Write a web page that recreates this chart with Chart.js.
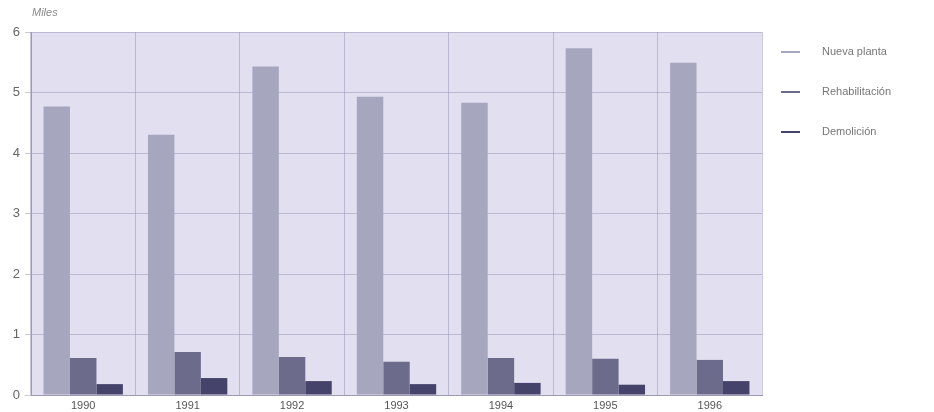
<!DOCTYPE html>
<html>
<head>
<meta charset="utf-8">
<script src="https://cdn.jsdelivr.net/npm/chart.js@4/dist/chart.umd.min.js"></script>
<style>
  html, body { margin: 0; padding: 0; background: #fff; }
  #wrap { width: 934px; height: 412px; }
</style>
</head>
<body>
<div id="wrap"><canvas id="myChart" width="934" height="412"></canvas></div>
<script>
// Años y valores (miles)
const years = ['1990', '1991', '1992', '1993', '1994', '1995', '1996'];
const nuevaPlanta = [4.77, 4.30, 5.43, 4.93, 4.83, 5.73, 5.49];
const rehabilitacion = [0.61, 0.71, 0.63, 0.55, 0.61, 0.60, 0.58];
const demolicion = [0.18, 0.28, 0.23, 0.18, 0.20, 0.17, 0.23];
const yTicks = [0, 1, 2, 3, 4, 5, 6];

const colores = ['#a7a6bf', '#6d6b8b', '#46436b'];

// fondo del área y leyenda de la derecha
const decor = {
    id: 'decor',
    beforeDraw(chart) {
        const { ctx, chartArea: a } = chart;
        ctx.save();
        ctx.fillStyle = '#e1dff0';
        ctx.fillRect(a.left, a.top, a.right - a.left, a.bottom - a.top);
        ctx.restore();
    },
    afterDraw(chart) {
        const ctx = chart.ctx;
        ctx.save();
        ctx.font = 'italic 11px "Liberation Sans", Arial, sans-serif';
        ctx.fillStyle = '#8a8a8a';
        ctx.textBaseline = 'middle';
        ctx.fillText('Miles', 32, 13);

        ctx.font = '11px "Liberation Sans", Arial, sans-serif';
        chart.data.datasets.forEach((ds, i) => {
            const y = 52 + i * 40;
            ctx.strokeStyle = ds.backgroundColor;
            ctx.lineWidth = 2;
            ctx.beginPath();
            ctx.moveTo(781, y);
            ctx.lineTo(800, y);
            ctx.stroke();
            ctx.fillStyle = '#777';
            ctx.fillText(ds.label, 822, y);
        });
        ctx.restore();
    }
};

const ctx = document.getElementById('myChart').getContext('2d');
const myChart = new Chart(ctx, {
    type: 'bar',
    data: {
        labels: years,
        datasets: [
            { label: 'Nueva planta', data: nuevaPlanta, backgroundColor: colores[0] },
            { label: 'Rehabilitación', data: rehabilitacion, backgroundColor: colores[1] },
            { label: 'Demolición', data: demolicion, backgroundColor: colores[2] }
        ]
    },
    options: {
        responsive: false,
        animation: false,
        layout: { padding: { top: 32, right: 172, left: 0, bottom: 0 } },
        datasets: {
            bar: { categoryPercentage: 0.76, barPercentage: 1.0 }
        },
        plugins: {
            legend: { display: false },
            tooltip: { enabled: false }
        },
        scales: {
            x: {
                grid: { color: 'rgba(150,147,180,0.5)', drawTicks: false, offset: true },
                border: { color: '#9c9ab3' },
                ticks: { color: '#555', padding: 4, font: { size: 11, family: '"Liberation Sans", Arial, sans-serif' } },
                afterFit(scale) { scale.height = 17; }
            },
            y: {
                min: 0,
                max: 6,
                afterBuildTicks(scale) { scale.ticks = yTicks.map(v => ({ value: v })); },
                grid: { color: 'rgba(150,147,180,0.5)', tickLength: 6 },
                border: { color: '#9c9ab3' },
                ticks: { color: '#666', padding: 5, font: { size: 13, family: '"Liberation Sans", Arial, sans-serif' } },
                afterFit(scale) { scale.width = 31; }
            }
        }
    },
    plugins: [decor]
});
</script>
</body>
</html>
